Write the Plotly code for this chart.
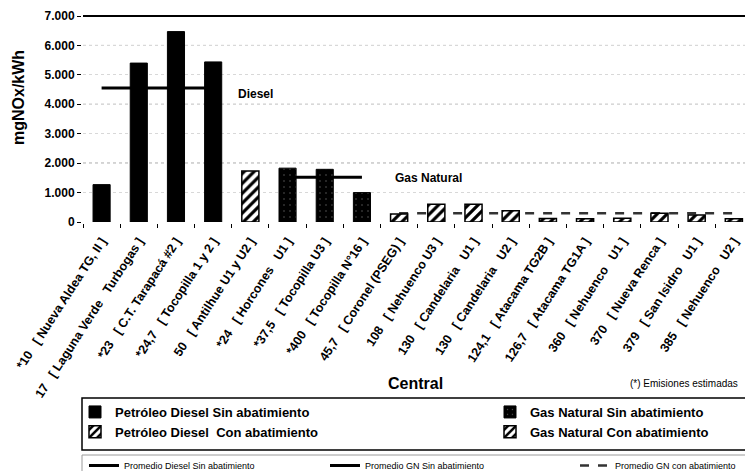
import plotly.graph_objects as go

NB = "\u00a0\u00a0\u00a0"  # separación amplia dentro de las etiquetas

# Centrales (potencia MW + nombre) en el orden del gráfico
centrales = [
    "*10" + NB + "[ Nueva Aldea TG, II ]",
    "17" + NB + "[ Laguna Verde" + NB + "Turbogas ]",
    "*23" + NB + "[ C.T. Tarapacá #2 ]",
    "*24,7" + NB + "[ Tocopilla 1 y 2 ]",
    "50" + NB + "[ Antilhue U1 y U2 ]",
    "*24" + NB + "[ Horcones" + NB + "U1 ]",
    "*37,5" + NB + "[ Tocopilla U3 ]",
    "*400" + NB + "[ Tocopilla N°16 ]",
    "45,7" + NB + "[ Coronel (PSEG) ]",
    "108" + NB + "[ Nehuenco U3 ]",
    "130" + NB + "[ Candelaria" + NB + "U1 ]",
    "130" + NB + "[ Candelaria" + NB + "U2 ]",
    "124,1" + NB + "[ Atacama TG2B ]",
    "126,7" + NB + "[ Atacama TG1A ]",
    "360" + NB + "[ Nehuenco" + NB + "U1 ]",
    "370" + NB + "[ Nueva Renca ]",
    "379" + NB + "[ San Isidro" + NB + "U1 ]",
    "385" + NB + "[ Nehuenco" + NB + "U2 ]",
]

# Emisiones de NOx (mg/kWh)
emisiones = [1270, 5400, 6470, 5440, 1730, 1830, 1790, 1000,
             270, 600, 600, 380, 120, 110, 130, 300, 240, 110]

# Tipo de combustible / abatimiento de cada central
tipo = ["DS", "DS", "DS", "DS", "DC", "GS", "GS", "GS",
        "GC", "GC", "GC", "GC", "GC", "GC", "GC", "GC", "GC", "GC"]

grupos = ["DS", "GS", "DC", "GC"]
grupo_nombres = {
    "DS": "Petróleo Diesel Sin abatimiento",
    "DC": "Petróleo Diesel  Con abatimiento",
    "GS": "Gas Natural Sin abatimiento",
    "GC": "Gas Natural Con abatimiento",
}

# Promedios por grupo
prom_grupos = ["DS", "GS", "GC"]
prom_nombres = ["Promedio Diesel Sin abatimiento",
                "Promedio GN Sin abatimiento",
                "Promedio GN con abatimiento"]
prom_valores = [4550, 1520, 300]

y_ticks = [0, 1000, 2000, 3000, 4000, 5000, 6000, 7000]

W, H = 745, 471
ML, MT, MB = 83, 16, 249
PW = W - ML
PH = H - MT - MB


def px_x(p):
    return (p - ML) / PW


def px_y(p):
    return (MT + PH - p) / PH


estilo = {
    "DS": dict(color="black", line=dict(color="black", width=1)),
    "GS": dict(color="black", line=dict(color="black", width=1),
               pattern=dict(shape=".", bgcolor="black", fgcolor="#555555",
                            size=6, solidity=0.06)),
    "DC": dict(color="white", line=dict(color="black", width=1.5),
               pattern=dict(shape="/", bgcolor="white", fgcolor="black",
                            size=7, solidity=0.45)),
    "GC": dict(color="white", line=dict(color="black", width=1.5),
               pattern=dict(shape="/", bgcolor="white", fgcolor="black",
                            size=7, solidity=0.45)),
}
leyenda_barra = {"DS": "legend", "DC": "legend", "GS": "legend2", "GC": "legend2"}

fig = go.Figure()

for g in grupos:
    xs = [c for c, t in zip(centrales, tipo) if t == g]
    ys = [v for v, t in zip(emisiones, tipo) if t == g]
    fig.add_trace(go.Bar(
        x=xs, y=ys, name=grupo_nombres[g], marker=estilo[g],
        width=0.46, zorder=1, legend=leyenda_barra[g],
        legendrank={"DS": 1, "DC": 2, "GS": 1, "GC": 2}[g],
    ))

linea_estilo = [dict(color="black", width=3),
                dict(color="black", width=3),
                dict(color="#333333", width=2.5, dash="dash")]
for i, (g, nom, val) in enumerate(zip(prom_grupos, prom_nombres, prom_valores)):
    cats = [c for c, t in zip(centrales, tipo) if t == g]
    fig.add_trace(go.Scatter(
        x=[cats[0], cats[-1]], y=[val, val], mode="lines", name=nom,
        line=linea_estilo[i], zorder=0, legend=f"legend{i + 3}",
    ))

# Líneas de grilla más marcadas cada 2.000
for v in [2000, 4000, 6000]:
    fig.add_shape(type="line", xref="paper", x0=0, x1=1, yref="y", y0=v, y1=v,
                  line=dict(color="#8a8a8a", width=1, dash="dot"), layer="below")

# Borde superior del área de trazado
fig.add_shape(type="line", xref="paper", x0=0, x1=1, yref="paper", y0=1, y1=1,
              line=dict(color="black", width=2))

# Recuadros de las leyendas
fig.add_shape(type="rect", xref="paper", yref="paper",
              x0=px_x(82), x1=px_x(760), y0=px_y(398), y1=px_y(450),
              line=dict(color="black", width=1.5), fillcolor="rgba(0,0,0,0)")
fig.add_shape(type="rect", xref="paper", yref="paper",
              x0=px_x(82), x1=px_x(760), y0=px_y(455), y1=px_y(480),
              line=dict(color="#9a9a9a", width=1), fillcolor="rgba(0,0,0,0)")

fuente = "Liberation Sans, Arial, sans-serif"
angosta = "Liberation Sans Narrow, Arial Narrow, Liberation Sans, sans-serif"

fig.add_annotation(text="Diesel", x=4.15, y=4350, xref="x", yref="y",
                   xanchor="center", yanchor="middle", showarrow=False,
                   font=dict(family=fuente, size=12, weight="bold"))
fig.add_annotation(text="Gas Natural", x=8.78, y=1500, xref="x", yref="y",
                   xanchor="center", yanchor="middle", showarrow=False,
                   font=dict(family=fuente, size=12, weight="bold"))
fig.add_annotation(text="mgNOx/kWh", textangle=-90, x=px_x(18), y=px_y(98),
                   xref="paper", yref="paper", xanchor="center", yanchor="middle",
                   showarrow=False, font=dict(family=fuente, size=16, weight="bold"))
fig.add_annotation(text="Central", x=px_x(415), y=px_y(383), xref="paper", yref="paper",
                   xanchor="center", yanchor="middle", showarrow=False,
                   font=dict(family=fuente, size=16, weight="bold"))
fig.add_annotation(text="(*) Emisiones estimadas", x=px_x(684), y=px_y(383),
                   xref="paper", yref="paper", xanchor="center", yanchor="middle",
                   showarrow=False, font=dict(family=angosta, size=10))

ley_barras = dict(orientation="v", xref="container", yref="container",
                  xanchor="left", yanchor="top", bgcolor="rgba(0,0,0,0)", borderwidth=0,
                  font=dict(family=fuente, size=13, weight="bold", color="black"),
                  itemwidth=30, traceorder="normal")
ley_lineas = dict(orientation="h", xref="container", yref="container",
                  xanchor="left", yanchor="top", bgcolor="rgba(0,0,0,0)", borderwidth=0,
                  font=dict(family=angosta, size=9, color="black"),
                  itemwidth=30)

fig.update_layout(
    template="none",
    width=W, height=H,
    margin=dict(l=ML, r=0, t=MT, b=MB, pad=0, autoexpand=False),
    paper_bgcolor="white", plot_bgcolor="white",
    font=dict(family=fuente, color="black"),
    separators=",.",
    barmode="overlay",
    showlegend=True,
    legend=dict(ley_barras, x=75 / W, y=1 - 397 / H),
    legend2=dict(ley_barras, x=490 / W, y=1 - 397 / H),
    legend3=dict(ley_lineas, x=84 / W, y=1 - 451 / H),
    legend4=dict(ley_lineas, x=325 / W, y=1 - 451 / H),
    legend5=dict(ley_lineas, x=575 / W, y=1 - 451 / H),
    xaxis=dict(
        type="category", categoryorder="array", categoryarray=centrales,
        range=[-0.5, 17.3], tickangle=-57, automargin=False,
        tickfont=dict(family=fuente, size=12.5, weight="bold", color="black"),
        ticks="outside", tickson="boundaries", ticklen=4, tickcolor="black",
        ticklabelstandoff=5,
        showline=True, linecolor="black", linewidth=2, mirror=True,
        showgrid=False,
    ),
    yaxis=dict(
        range=[0, 7000], tickvals=y_ticks, tickformat=",.0f", automargin=False,
        tickfont=dict(family=fuente, size=12, weight="bold", color="black"),
        ticks="outside", ticklen=4, tickcolor="black",
        showline=True, linecolor="black", linewidth=2,
        showgrid=True, gridcolor="#d8d8d8", griddash="dot", gridwidth=1,
        zeroline=False,
    ),
)

fig.write_html("out.html")
